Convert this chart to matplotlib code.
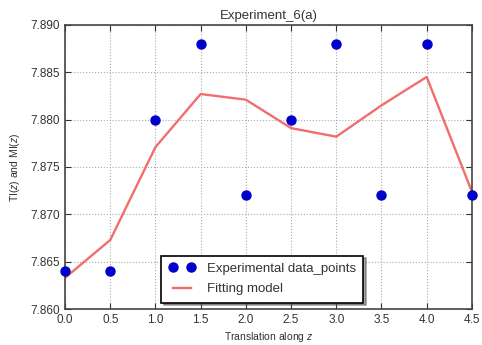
import matplotlib
matplotlib.use("Agg")
import matplotlib.pyplot as plt

plt.rcParams['font.family'] = ['Liberation Sans', 'DejaVu Sans']
plt.rcParams['mathtext.fontset'] = 'custom'
plt.rcParams['mathtext.it'] = 'Liberation Sans:italic'

# Translation positions along z
z = [0.0, 0.5, 1.0, 1.5, 2.0, 2.5, 3.0, 3.5, 4.0, 4.5]
# Measured values
measured = [7.864, 7.864, 7.880, 7.888, 7.872, 7.880, 7.888, 7.872, 7.888, 7.872]
# Fitted model values
fitted = [7.8633, 7.8673, 7.8771, 7.8827, 7.8821, 7.8791, 7.8782, 7.8815, 7.8845, 7.8724]

xticks = [0.0, 0.5, 1.0, 1.5, 2.0, 2.5, 3.0, 3.5, 4.0, 4.5]
yticks = [7.860, 7.865, 7.870, 7.875, 7.880, 7.885, 7.890]

fig = plt.figure(figsize=(4.82, 3.45), dpi=100)
ax = fig.add_axes([0.135, 0.104, 0.844, 0.824])

ax.plot(z, measured, 'o', color='#0000cc', markersize=6.5, markeredgecolor='#0000cc',
        label='Experimental data_points', clip_on=False, zorder=3)
ax.plot(z, fitted, '-', color='#f26d6d', linewidth=1.7, label='Fitting model', zorder=2)

ax.set_xlim(0.0, 4.5)
ax.set_ylim(7.860, 7.890)
ax.set_xticks(xticks)
ax.set_xticklabels([f"{t:.1f}" for t in xticks])
ax.set_yticks(yticks)
ax.set_yticklabels([f"{t:.3f}" for t in yticks])
ax.tick_params(direction='in', labelsize=8.5, colors='#333333', length=4,
               top=True, right=True)
ax.grid(True, linestyle=':', color='#aaaaaa', linewidth=0.8)
for s in ax.spines.values():
    s.set_color('#444444')
    s.set_linewidth(1.2)

ax.set_title('Experiment_6(a)', fontsize=9.5, color='#333333', pad=4)
ax.set_xlabel(r'Translation along $z$', fontsize=7.5, color='#333333', labelpad=3)
ax.set_ylabel(r'TI($z$) and MI($z$)', fontsize=7.5, color='#333333', labelpad=6)

leg = ax.legend(loc='lower center', numpoints=2, fontsize=9.5, shadow=True, fancybox=False,
                edgecolor='black', framealpha=1, borderpad=0.55, labelspacing=0.6,
                handlelength=2.0, handletextpad=0.9, bbox_to_anchor=(0.485, 0.0))
leg.get_frame().set_linewidth(1.2)
for t in leg.get_texts():
    t.set_color('#333333')

fig.savefig('out.png', dpi=100)
